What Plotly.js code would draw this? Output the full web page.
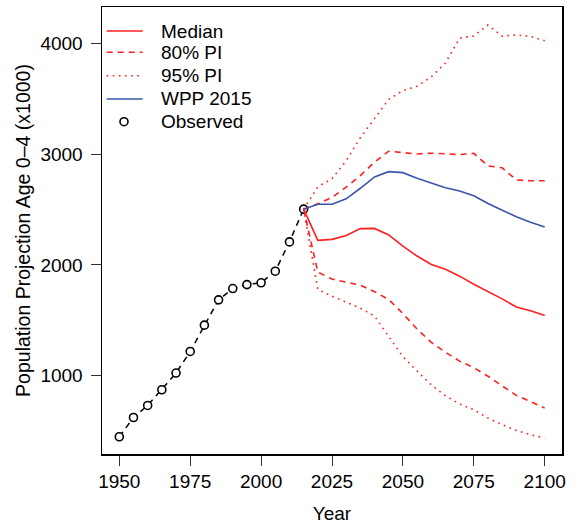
<!DOCTYPE html>
<html>
<head>
<meta charset="utf-8">
<script src="https://cdn.plot.ly/plotly-3.0.1.min.js"></script>
<style>html,body{margin:0;padding:0;background:#fff;}#chart{width:576px;height:528px;}</style>
</head>
<body>
<div id="chart"></div>
<script>
// Observed population age 0-4 (x1000)
var obsYears = [1950,1955,1960,1965,1970,1975,1980,1985,1990,1995,2000,2005,2010,2015];
var observed = [446,620,729,871,1022,1217,1455,1684,1786,1822,1838,1943,2208,2504];

// Projection years
var projYears = [2015,2020,2025,2030,2035,2040,2045,2050,2055,2060,2065,2070,2075,2080,2085,2090,2095,2100];
var median    = [2504,2222,2231,2266,2328,2330,2271,2169,2080,2004,1961,1898,1825,1762,1693,1619,1585,1542];
var pi80Upper = [2504,2552,2610,2703,2808,2930,3028,3018,3003,3010,3002,2998,3009,2895,2878,2768,2761,2761];
var pi80Lower = [2504,1935,1872,1844,1817,1758,1687,1560,1420,1300,1210,1130,1070,993,905,820,765,705];
var pi95Upper = [2504,2706,2780,2942,3150,3320,3497,3576,3615,3700,3826,4050,4070,4169,4069,4080,4065,4027];
var pi95Lower = [2504,1778,1717,1666,1609,1537,1350,1170,1040,915,817,742,690,615,555,503,464,434];
var wpp2015   = [2504,2549,2549,2597,2693,2795,2843,2834,2784,2741,2698,2668,2625,2555,2495,2435,2385,2342];

var xTicks = [1950,1975,2000,2025,2050,2075,2100];
var yTicks = [1000,2000,3000,4000];
var legendLabels = ['Median','80% PI','95% PI','WPP 2015','Observed'];

var RED = '#FF1F1F';
var BLUE = '#3A55A8';
var FONT = 'Liberation Sans, Arial, Helvetica, sans-serif';
var DASH = '6px,5px';
var DOT = '1.6px,4.5px';
var FS = 19;

var traces = [
  {x: obsYears, y: observed, name: 'Observed', mode: 'lines', showlegend: false,
   line: {color: 'black', width: 1.5, dash: DASH}},
  {x: obsYears, y: observed, name: 'Observed', mode: 'markers', showlegend: false,
   marker: {symbol: 'circle', size: 8, color: 'white', line: {color: 'black', width: 1.6}}},
  {x: projYears, y: pi95Upper, name: '95% PI', mode: 'lines', showlegend: false,
   line: {color: RED, width: 1.6, dash: DOT}},
  {x: projYears, y: pi95Lower, name: '95% PI', mode: 'lines', showlegend: false,
   line: {color: RED, width: 1.6, dash: DOT}},
  {x: projYears, y: pi80Upper, name: '80% PI', mode: 'lines', showlegend: false,
   line: {color: RED, width: 1.6, dash: DASH}},
  {x: projYears, y: pi80Lower, name: '80% PI', mode: 'lines', showlegend: false,
   line: {color: RED, width: 1.6, dash: DASH}},
  {x: projYears, y: wpp2015, name: 'WPP 2015', mode: 'lines', showlegend: false,
   line: {color: BLUE, width: 1.6}},
  {x: projYears, y: median, name: 'Median', mode: 'lines', showlegend: false,
   line: {color: RED, width: 1.6}}
];

// Custom legend (paper coordinates), styled like base R legend
var legStyles = [
  {color: RED, dash: 'solid'},
  {color: RED, dash: DASH},
  {color: RED, dash: DOT},
  {color: BLUE, dash: 'solid'},
  null
];
var legRowY = [0.9463, 0.8987, 0.8463, 0.7942, 0.7434];
var shapes = [];
var annotations = [];
legendLabels.forEach(function (lab, i) {
  if (legStyles[i]) {
    shapes.push({type: 'line', xref: 'paper', yref: 'paper', x0: 0.0102, x1: 0.0885,
                 y0: legRowY[i], y1: legRowY[i],
                 line: {color: legStyles[i].color, width: 1.6, dash: legStyles[i].dash}});
  } else {
    shapes.push({type: 'circle', xref: 'paper', yref: 'paper', xsizemode: 'pixel', ysizemode: 'pixel',
                 xanchor: 0.0478, yanchor: legRowY[i], x0: -4, x1: 4, y0: -4, y1: 4,
                 line: {color: 'black', width: 1.6}, fillcolor: 'white'});
  }
  annotations.push({xref: 'paper', yref: 'paper', x: 0.1239, y: legRowY[i], xanchor: 'left', yanchor: 'middle',
                    text: lab, showarrow: false, font: {size: FS, family: FONT, color: 'black'}});
});

var layout = {
  width: 576, height: 528,
  margin: {l: 102, r: 14, t: 7, b: 74, pad: 0},
  paper_bgcolor: 'white', plot_bgcolor: 'white',
  font: {family: FONT, size: FS, color: 'black'},
  showlegend: false,
  shapes: shapes,
  annotations: annotations,
  xaxis: {range: [1943.9, 2106.1], tickvals: xTicks, ticktext: xTicks.map(String),
          ticks: 'outside', ticklen: 10, tickwidth: 1, tickcolor: '#333',
          showline: true, mirror: true, linecolor: 'black', linewidth: 1.5,
          showgrid: false, zeroline: false, tickfont: {size: FS},
          title: {text: 'Year', font: {size: FS}, standoff: 15}},
  yaxis: {range: [290, 4332], tickvals: yTicks, ticktext: yTicks.map(String),
          ticks: 'outside', ticklen: 10, tickwidth: 1, tickcolor: '#333',
          showline: true, mirror: true, linecolor: 'black', linewidth: 1.5,
          showgrid: false, zeroline: false, tickfont: {size: FS}, ticklabelstandoff: 4,
          title: {text: 'Population Projection Age 0\u20134 (x1000)', font: {size: 19.5}, standoff: 4}}
};

Plotly.newPlot('chart', traces, layout, {displayModeBar: false, staticPlot: true});
</script>
</body>
</html>
